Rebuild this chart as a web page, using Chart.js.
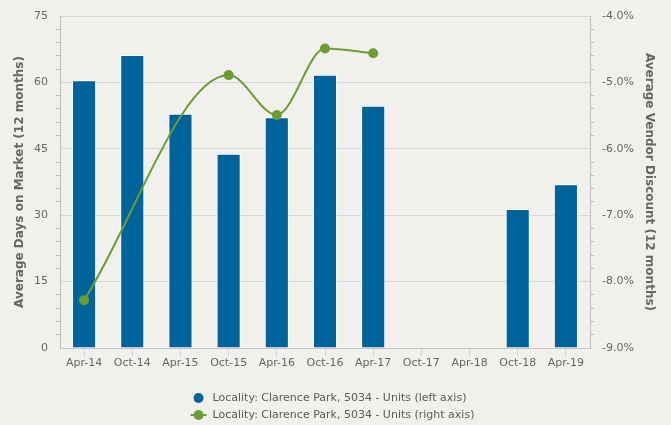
<!DOCTYPE html>
<html>
<head>
<meta charset="utf-8">
<script src="https://cdn.jsdelivr.net/npm/chart.js@4.4.1/dist/chart.umd.min.js"></script>
<style>
  html, body { margin: 0; padding: 0; background: #f1f0ec; }
  #wrap { width: 671px; height: 425px; }
</style>
</head>
<body>
<div id="wrap"><canvas id="chart" width="671" height="425"></canvas></div>
<script>
// half-year periods along the x axis
const periods = ['Apr-14', 'Oct-14', 'Apr-15', 'Oct-15', 'Apr-16', 'Oct-16', 'Apr-17', 'Oct-17', 'Apr-18', 'Oct-18', 'Apr-19'];

// average days on market (left axis)
const daysOnMarket = [60.5, 66.2, 52.9, 43.9, 52.1, 61.7, 54.7, null, null, 31.4, 37.0];

// average vendor discount in % (right axis)
const vendorDiscount = [-8.28, null, null, -4.89, -5.49, -4.49, -4.56, null, null, null, null];

const seriesNames = [
    'Locality: Clarence Park, 5034 - Units (left axis)',
    'Locality: Clarence Park, 5034 - Units (right axis)'
];

const BLUE = '#00649a';
const GREEN = '#6b9d34';
const TEXT = '#666666';

Chart.defaults.font.family = '"DejaVu Sans", sans-serif';
Chart.defaults.font.size = 11;
Chart.defaults.color = TEXT;

const isWhole = (v, step) => Math.abs(v / step - Math.round(v / step)) < 1e-6;

// two stacked legend rows under the axis
const legendRows = {
    id: 'legendRows',
    afterDraw(chart) {
        const ctx = chart.ctx;
        const datasets = chart.data.datasets;
        ctx.save();
        ctx.font = '11px "DejaVu Sans", sans-serif';
        const textW = Math.max(...datasets.map(d => ctx.measureText(d.label).width));
        const left = (chart.width - (20 + textW)) / 2 - 2;
        datasets.forEach((ds, i) => {
            const y = 398 + i * 17;
            const cx = left + 6;
            if (ds.type === 'line') {
                ctx.strokeStyle = GREEN;
                ctx.lineWidth = 2;
                ctx.beginPath();
                ctx.moveTo(cx - 8, y);
                ctx.lineTo(cx + 8, y);
                ctx.stroke();
                ctx.fillStyle = GREEN;
            } else {
                ctx.fillStyle = BLUE;
            }
            ctx.beginPath();
            ctx.arc(cx, y, 5, 0, Math.PI * 2);
            ctx.fill();
            ctx.fillStyle = '#5a5a5a';
            ctx.textBaseline = 'middle';
            ctx.textAlign = 'left';
            ctx.fillText(ds.label, left + 20, y);
        });
        ctx.restore();
    }
};

// paint the page colour behind everything
const background = {
    id: 'background',
    beforeDraw(chart) {
        const ctx = chart.ctx;
        ctx.save();
        ctx.fillStyle = '#f1f0ec';
        ctx.fillRect(0, 0, chart.width, chart.height);
        ctx.restore();
    }
};

new Chart(document.getElementById('chart'), {
    data: {
        labels: periods,
        datasets: [{
            type: 'bar',
            label: seriesNames[0],
            data: daysOnMarket,
            yAxisID: 'y',
            backgroundColor: BLUE,
            borderColor: '#ffffff',
            borderWidth: 1,
            borderSkipped: 'bottom',
            barPercentage: 0.5,
            categoryPercentage: 1,
            order: 1
        }, {
            type: 'line',
            label: seriesNames[1],
            data: vendorDiscount,
            yAxisID: 'y1',
            borderColor: GREEN,
            backgroundColor: GREEN,
            borderWidth: 2,
            pointRadius: 5,
            pointBorderWidth: 0,
            spanGaps: true,
            cubicInterpolationMode: 'monotone',
            order: 0
        }]
    },
    options: {
        responsive: false,
        animation: false,
        layout: { padding: { top: 16, bottom: 55, left: 0, right: 0 } },
        plugins: {
            legend: { display: false },
            tooltip: { enabled: false }
        },
        scales: {
            x: {
                afterFit: (scale) => { scale.height = 22; },
                grid: {
                    offset: false,
                    drawOnChartArea: false,
                    tickLength: 8,
                    tickColor: '#c6d3ea'
                },
                border: { color: '#c8c8c8' },
                ticks: { padding: 1, color: TEXT, maxRotation: 0, autoSkip: false }
            },
            y: {
                position: 'left',
                min: 0,
                max: 75,
                afterFit: (scale) => { scale.width = 60; },
                grid: {
                    tickLength: 4,
                    color: (c) => isWhole(c.tick.value, 15) ? '#d6d6d6' : 'transparent',
                    tickColor: (c) => isWhole(c.tick.value, 15) ? 'transparent' : '#c0c0c0'
                },
                border: { color: '#c0c0c0' },
                ticks: {
                    stepSize: 3,
                    autoSkip: false,
                    padding: 8,
                    callback: (v) => isWhole(v, 15) ? String(v) : ''
                },
                title: {
                    display: true,
                    text: 'Average Days on Market (12 months)',
                    color: TEXT,
                    font: { size: 12, weight: 'bold' },
                    padding: { top: 13, bottom: 0 }
                }
            },
            y1: {
                position: 'right',
                min: -9,
                max: -4,
                afterFit: (scale) => { scale.width = 81; },
                grid: {
                    drawOnChartArea: false,
                    tickLength: 4,
                    tickColor: (c) => isWhole(c.tick.value, 1) ? 'transparent' : '#c0c0c0'
                },
                border: { color: '#c0c0c0' },
                ticks: {
                    stepSize: 0.2,
                    autoSkip: false,
                    padding: 8,
                    callback: (v) => isWhole(v, 1) ? v.toFixed(1) + '%' : ''
                },
                title: {
                    display: true,
                    text: 'Average Vendor Discount (12 months)',
                    color: TEXT,
                    font: { size: 12, weight: 'bold' },
                    padding: { top: 15, bottom: 0 }
                }
            }
        }
    },
    plugins: [background, legendRows]
});
</script>
</body>
</html>
